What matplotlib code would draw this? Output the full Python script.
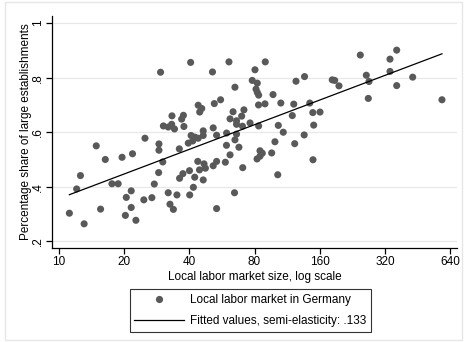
import numpy as np
import matplotlib
matplotlib.use("Agg")
import matplotlib.pyplot as plt
from matplotlib.lines import Line2D
from matplotlib.patches import Rectangle

plt.rcParams['font.family'] = ['Liberation Sans', 'DejaVu Sans']

# Local labor market size (x, log scale) and share of large establishments (y)
market_size = [
    11.2, 12.1, 12.6, 13.1, 14.9, 15.6, 16.4, 17.6, 18.8, 19.6,
    20.3, 20.5, 21.6, 21.6, 21.9, 22.7, 24.7, 25.0, 26.9, 27.6,
    28.9, 29.0, 29.0, 29.5, 30.2, 30.4, 32.0, 33.2, 34.2, 33.3,
    32.0, 32.6, 33.8, 35.1, 36.0, 36.1, 37.4, 36.9, 37.6, 37.8,
    40.1, 40.2, 41.8, 42.4, 39.6, 40.8, 41.5, 42.5, 44.0, 46.4,
    46.4, 40.6, 44.0, 45.7, 44.7, 43.8, 44.6, 46.4, 46.8, 47.5,
    51.2, 52.2, 55.8, 51.6, 53.5, 53.5, 51.6, 53.5, 61.0, 65.0,
    80.4, 89.7, 78.1, 82.4, 81.3, 82.4, 83.6, 97.4, 124.3, 136.1,
    83.5, 89.4, 105.8, 121.4, 143.9, 63.7, 71.5, 69.8, 61.7, 66.1,
    66.1, 76.3, 70.4, 83.6, 103.0, 119.5, 148.6, 160.4, 108.6, 135.6,
    59.5, 66.1, 65.0, 59.4, 67.8, 99.4, 122.6, 61.7, 84.8, 86.9,
    84.8, 82.2, 96.0, 148.9, 58.7, 70.6, 102.4, 64.7, 150.0, 182.7,
    187.5, 196.2, 246.1, 262.3, 269.9, 267.9, 337.3, 362.2, 337.3, 362.2,
    429.2, 585.8,
]
large_share = [
    0.303, 0.392, 0.441, 0.264, 0.550, 0.318, 0.500, 0.411, 0.411, 0.508,
    0.295, 0.361, 0.385, 0.324, 0.521, 0.277, 0.352, 0.578, 0.360, 0.410,
    0.452, 0.557, 0.534, 0.820, 0.491, 0.623, 0.619, 0.629, 0.612, 0.660,
    0.378, 0.336, 0.317, 0.370, 0.539, 0.431, 0.448, 0.648, 0.662, 0.621,
    0.459, 0.370, 0.398, 0.435, 0.560, 0.588, 0.568, 0.582, 0.578, 0.605,
    0.588, 0.856, 0.699, 0.687, 0.674, 0.493, 0.462, 0.425, 0.484, 0.468,
    0.821, 0.705, 0.719, 0.616, 0.589, 0.320, 0.477, 0.493, 0.858, 0.765,
    0.829, 0.858, 0.790, 0.780, 0.758, 0.746, 0.736, 0.738, 0.787, 0.804,
    0.700, 0.704, 0.707, 0.703, 0.707, 0.675, 0.682, 0.659, 0.649, 0.642,
    0.629, 0.634, 0.622, 0.623, 0.625, 0.661, 0.672, 0.674, 0.600, 0.590,
    0.597, 0.593, 0.572, 0.552, 0.545, 0.565, 0.558, 0.517, 0.532, 0.523,
    0.512, 0.502, 0.524, 0.499, 0.490, 0.470, 0.444, 0.378, 0.626, 0.792,
    0.790, 0.770, 0.883, 0.809, 0.786, 0.724, 0.868, 0.901, 0.823, 0.771,
    0.802, 0.719,
]
x_ticks = [10, 20, 40, 80, 160, 320, 640]
y_ticks = [0.2, 0.4, 0.6, 0.8, 1.0]
y_tick_labels = [".2", ".4", ".6", ".8", "1"]
legend_labels = ["Local labor market in Germany",
                 "Fitted values, semi-elasticity: .133"]

x = np.array(market_size)
y = np.array(large_share)
slope, intercept = np.polyfit(np.log(x), y, 1)
xf = np.array([x.min(), x.max()])
yf = intercept + slope * np.log(xf)

W, H = 467, 342
fig = plt.figure(figsize=(W / 100, H / 100), dpi=100)
fig.patch.set_facecolor('white')

# outer graph region border
fig.patches.append(Rectangle((5 / W, 2 / H), (W - 10) / W, (H - 4) / H,
                             transform=fig.transFigure, fill=False,
                             edgecolor='#e6e6e6', linewidth=1.0))

ax = fig.add_axes([52 / W, 1 - 248 / H, (457 - 52) / W, (248 - 16) / H])
ax.set_xscale('log')
ax.set_xlim(9.313, 687.2)
ax.set_ylim(0.1754, 1.0262)

for yt in y_ticks:
    ax.axhline(yt, color='#e8e8e8', linewidth=0.9, zorder=0)

ax.scatter(x, y, s=26, color='#595959', edgecolors='none', zorder=3)
ax.plot(xf, yf, color='black', linewidth=0.9, zorder=4)

ax.set_xticks(x_ticks)
ax.set_xticklabels([str(t) for t in x_ticks])
ax.xaxis.set_minor_locator(matplotlib.ticker.NullLocator())
ax.set_yticks(y_ticks)
ax.set_yticklabels(y_tick_labels, rotation=90, va='center')

for s in ['top', 'right']:
    ax.spines[s].set_visible(False)
for s in ['left', 'bottom']:
    ax.spines[s].set_color('black')
    ax.spines[s].set_linewidth(0.9)
ax.tick_params(axis='both', direction='out', length=4, width=0.9,
               colors='black', labelsize=8.5, pad=2)

ax.set_xlabel("Local labor market size, log scale", fontsize=8.5, labelpad=2)
ax.set_ylabel("Percentage share of large establishments", fontsize=8.5,
              labelpad=0)

handles = [
    Line2D([], [], marker='o', linestyle='none', color='#595959',
           markersize=5.2, markeredgewidth=0),
    Line2D([], [], color='black', linewidth=0.9),
]
leg = fig.legend(handles, legend_labels, loc='center',
                 bbox_to_anchor=(250.5 / W, 1 - 310.5 / H),
                 fontsize=8.5, frameon=True, fancybox=False,
                 handlelength=4.2, handletextpad=0.55, labelspacing=0.75,
                 borderpad=0.4, borderaxespad=0)
leg.get_frame().set_edgecolor('black')
leg.get_frame().set_linewidth(0.8)

fig.savefig('out.png', dpi=100, facecolor='white')
